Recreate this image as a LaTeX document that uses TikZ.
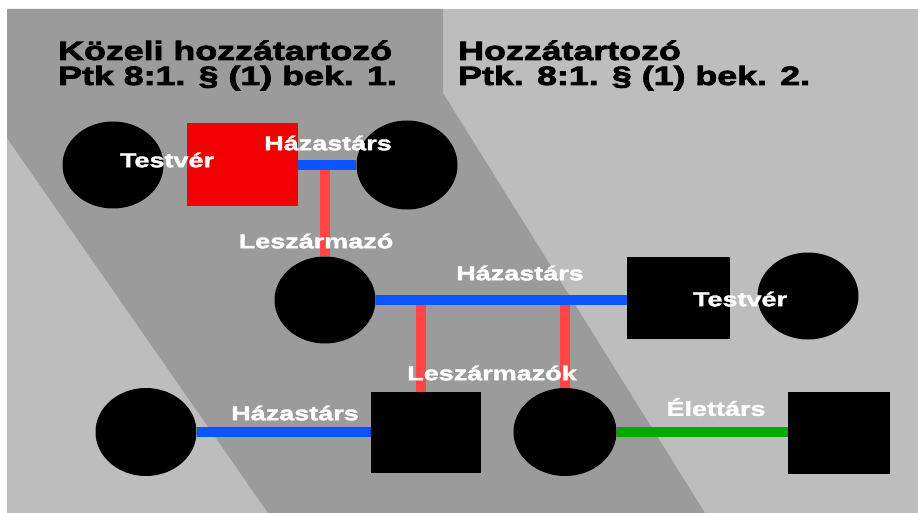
\documentclass[tikz,border=0pt]{standalone}
\usepackage{fontspec}
\setmainfont{Liberation Sans}
\newfontfamily\titlefont{Liberation Sans Bold}[FakeStretch=1.35,FakeBold=3]
\newfontfamily\labelfont{Liberation Sans Bold}[FakeStretch=1.35,FakeBold=1.8]
\usepackage{tikz}
\usetikzlibrary{calc}
\usetikzlibrary{shapes.geometric}
\definecolor{lightbg}{HTML}{BDBDBD}
\definecolor{darkbg}{HTML}{9B9B9B}
\definecolor{sqred}{HTML}{F20000}
\definecolor{linered}{HTML}{FF4545}
\definecolor{lineblue}{HTML}{0A55FF}
\definecolor{linegreen}{HTML}{00A800}
\tikzstyle{female} = [ellipse, fill=black, draw=none, inner sep=0, minimum width=101pt, minimum height=87pt]
\tikzstyle{male} = [rectangle, fill=black, draw=none, inner sep=0, minimum width=103pt, minimum height=82pt]
\tikzstyle{rel} = [white, inner sep=0, font=\labelfont\fontsize{20}{20}\selectfont]
\tikzstyle{title} = [black, inner sep=0, anchor=base west, font=\titlefont\fontsize{26.5}{26.5}\selectfont]
\tikzstyle{spouse} = [-, line width=10pt, draw=lineblue]
\tikzstyle{desc} = [-, line width=10pt, draw=linered]
\tikzstyle{partner} = [-, line width=10pt, draw=linegreen]

\begin{document}
\begin{tikzpicture}[x=1pt, y=-1pt]
% background
\fill [white] (0, 0) rectangle (918, 513);
\fill [lightbg] (7, 9) rectangle (918, 513);
\fill [darkbg] (7, 9) -- (443, 9) -- (443, 93) -- (705, 513) -- (268, 513) -- (7, 138) -- cycle;
\useasboundingbox (0, 0) rectangle (918, 513);

\node [title] (tl1) at (58, 60) {Közeli hozzátartozó};
\node [title] (tl2) at (58, 85) {Ptk 8:1. § (1) bek. 1.};
\node [title] (tr1) at (458, 60) {Hozzátartozó};
\node [title] (tr2) at (458, 85) {Ptk. 8:1. § (1) bek. 2.};

% first row
\node [female] (T1) at (113, 165) {};
\node [male, fill=sqred, minimum width=111pt, minimum height=83pt] (Me) at (242.5, 165) {};
\node [female, minimum height=89pt] (S1) at (407, 165) {};
% second row
\node [female] (D1) at (325, 300) {};
\node [male] (S2) at (678.5, 298) {};
\node [female] (T2) at (808, 296) {};
% third row
\node [female, minimum height=88pt] (S3) at (146, 432) {};
\node [male, minimum width=110pt, minimum height=81pt] (D2) at (426, 432.5) {};
\node [female, minimum width=103pt, minimum height=88pt] (D3) at (565, 432) {};
\node [male, minimum width=102pt] (P1) at (839, 433) {};

\coordinate (m1) at (325, 165);
\coordinate (m2) at (421, 298);
\coordinate (m3) at (565, 298);
\draw [desc] (m1) to (D1.north);
\draw [desc] (m2) to (m2 |- D2.north);
\draw [desc] (m3) to (D3.north);
\draw [spouse] (Me.east) to (S1.west);
\draw [spouse] (D1.east) to (D1.east -| S2.west);
\draw [spouse] (S3.east) to (S3.east -| D2.west);
\draw [partner] (D3.east) to (D3.east -| P1.west);

\node [rel] (l1) at (167, 160) {Testvér};
\node [rel] (l2) at (328, 143) {Házastárs};
\node [rel] (l3) at (316, 241) {Leszármazó};
\node [rel] (l4) at (520, 273) {Házastárs};
\node [rel] (l5) at (740, 299) {Testvér};
\node [rel] (l6) at (492, 373) {Leszármazók};
\node [rel] (l7) at (295, 413) {Házastárs};
\node [rel] (l8) at (716, 407) {Élettárs};
\end{tikzpicture}
\end{document}
